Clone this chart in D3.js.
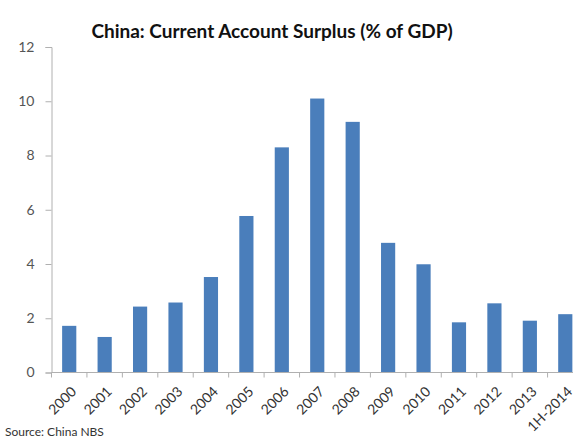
<!DOCTYPE html>
<html>
<head>
<meta charset="utf-8">
<script src="https://cdn.jsdelivr.net/npm/d3@7"></script>
<style>
  body { margin: 0; background: #fff; }
  svg { display: block; }
</style>
</head>
<body>
<svg id="chart" width="573" height="438"></svg>
<script>
let years = ["2000", "2001", "2002", "2003", "2004", "2005", "2006", "2007",
             "2008", "2009", "2010", "2011", "2012", "2013", "1H-2014"];
let surplus = [1.72, 1.31, 2.43, 2.58, 3.52, 5.77, 8.3, 10.1,
               9.24, 4.78, 3.99, 1.85, 2.55, 1.91, 2.15];
let yTicks = [0, 2, 4, 6, 8, 10, 12];

let svg = d3.select("#chart");

let x = d3.scaleBand()
          .domain(years)
          .range([51.5, 583])
          .paddingInner(0.6)
          .paddingOuter(0.3);

let y = d3.scaleLinear()
          .domain([0, 12])
          .range([372.5, 47]);

// title
svg.append("text")
   .attr("x", 272)
   .attr("y", 38)
   .attr("text-anchor", "middle")
   .attr("font-family", "Lato, 'Open Sans', sans-serif")
   .attr("font-weight", "bold")
   .attr("font-size", 19)
   .attr("fill", "#111")
   .text("China: Current Account Surplus (% of GDP)");

// bars
svg.selectAll("rect.bar")
   .data(years)
   .enter()
   .append("rect")
   .attr("class", "bar")
   .attr("x", d => x(d))
   .attr("width", x.bandwidth())
   .attr("y", (d, i) => y(surplus[i]))
   .attr("height", (d, i) => y(0) - y(surplus[i]))
   .attr("fill", "#4a7ebb");

// y axis
let yAxis = d3.axisLeft(y).tickValues(yTicks).tickSize(6).tickPadding(11);
let gy = svg.append("g")
            .attr("transform", "translate(51.5,0)")
            .call(yAxis);
gy.select(".domain").attr("stroke", "#b0b0b0");
gy.selectAll(".tick line").attr("stroke", "#b0b0b0");
gy.selectAll(".tick text")
  .attr("font-family", "Lato, 'Open Sans', sans-serif")
  .attr("font-size", 14)
  .attr("fill", "#555");

// x axis: ticks sit between categories
let step = x.step();
let boundaries = d3.range(years.length + 1).map(i => 51.5 + i * step);
svg.append("line")
   .attr("x1", 51.5).attr("x2", 573)
   .attr("y1", y(0)).attr("y2", y(0))
   .attr("stroke", "#b0b0b0");
svg.selectAll("line.xtick")
   .data(boundaries)
   .enter()
   .append("line")
   .attr("class", "xtick")
   .attr("x1", d => d).attr("x2", d => d)
   .attr("y1", y(0)).attr("y2", y(0) + 5)
   .attr("stroke", "#b0b0b0");

svg.selectAll("text.xlab")
   .data(years)
   .enter()
   .append("text")
   .attr("class", "xlab")
   .attr("transform", d => "translate(" + (x(d) + x.bandwidth() / 2 + 8) + "," + (y(0) + 20) + ") rotate(-45)")
   .attr("text-anchor", "end")
   .attr("font-family", "Lato, 'Open Sans', sans-serif")
   .attr("font-size", 14)
   .attr("fill", "#333")
   .text(d => d);

// source
svg.append("text")
   .attr("x", 5)
   .attr("y", 436)
   .attr("font-family", "Lato, 'Open Sans', sans-serif")
   .attr("font-size", 12)
   .attr("fill", "#333")
   .text("Source: China NBS");
</script>
</body>
</html>
